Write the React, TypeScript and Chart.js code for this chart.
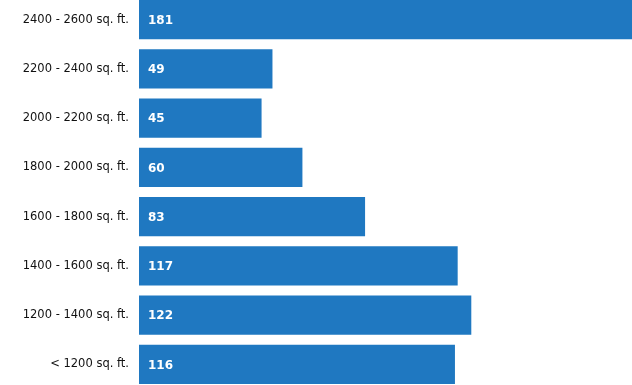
import React, { useEffect, useRef } from "react";
import { Chart, registerables } from "chart.js";

Chart.register(...registerables);

const categories = [
  "2400 - 2600 sq. ft.",
  "2200 - 2400 sq. ft.",
  "2000 - 2200 sq. ft.",
  "1800 - 2000 sq. ft.",
  "1600 - 1800 sq. ft.",
  "1400 - 1600 sq. ft.",
  "1200 - 1400 sq. ft.",
  "< 1200 sq. ft.",
];
const counts = [181, 49, 45, 60, 83, 117, 122, 116];

const FONT = "Tahoma, 'DejaVu Sans', sans-serif";

const valueLabels = {
  id: "valueLabels",
  afterDatasetsDraw(chart: any) {
    const ctx = chart.ctx;
    const meta = chart.getDatasetMeta(0);
    ctx.save();
    ctx.fillStyle = "#ffffff";
    ctx.font = `bold 12px ${FONT}`;
    ctx.textAlign = "left";
    ctx.textBaseline = "middle";
    meta.data.forEach((bar: any, i: number) => {
      ctx.fillText(String(counts[i]), bar.base + 9, bar.y + 1);
    });
    ctx.restore();
  },
};

export default function App() {
  const ref = useRef<HTMLCanvasElement>(null);
  useEffect(() => {
    document.body.style.margin = "0";
    document.body.style.overflow = "hidden";
    const chart = new Chart(ref.current!, {
      type: "bar",
      data: {
        labels: categories,
        datasets: [
          {
            data: counts,
            backgroundColor: "#1f78c1",
            barPercentage: 1,
            categoryPercentage: 0.8,
          },
        ],
      },
      options: {
        indexAxis: "y",
        animation: false,
        responsive: false,
        layout: { padding: 0 },
        plugins: { legend: { display: false }, tooltip: { enabled: false } },
        scales: {
          x: { display: false, min: 0, max: Math.max(...counts) },
          y: {
            grid: { display: false, drawTicks: false },
            border: { display: false },
            ticks: {
              color: "#111111",
              padding: 10,
              font: { family: FONT, size: 11.5 },
            },
            afterFit(scale: any) {
              scale.width = 139;
              scale.paddingTop = 0;
              scale.paddingBottom = 0;
            },
          },
        },
      },
      plugins: [valueLabels],
    });
    return () => chart.destroy();
  }, []);
  return (
    <div style={{ position: "fixed", left: 0, top: -5, width: 632, height: 394 }}>
      <canvas ref={ref} width={632} height={394} />
    </div>
  );
}
